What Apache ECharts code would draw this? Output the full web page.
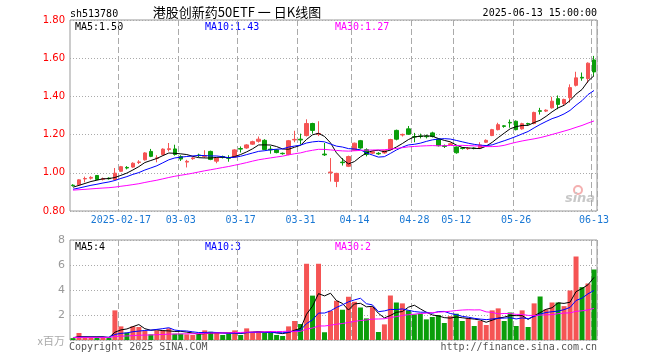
<!DOCTYPE html>
<html>
<head>
<meta charset="utf-8">
<script src="https://cdn.jsdelivr.net/npm/echarts@6/dist/echarts.min.js"></script>
<style>html,body{margin:0;padding:0;background:#fff}#c{width:660px;height:360px}</style>
</head>
<body>
<div id="c"></div>
<script>
// ---- data ----
const dates = ['02-05','02-06','02-07','02-10','02-11','02-12','02-13','02-14','02-17','02-18','02-19','02-20','02-21','02-24','02-25','02-26','02-27','02-28',
'03-03','03-04','03-05','03-06','03-07','03-10','03-11','03-12','03-13','03-14','03-17','03-18','03-19','03-20','03-21','03-24','03-25','03-26','03-27','03-28','03-31',
'04-01','04-02','04-03','04-07','04-08','04-09','04-10','04-11','04-14','04-15','04-16','04-17','04-18','04-21','04-22','04-23','04-24','04-25','04-28','04-29','04-30',
'05-06','05-07','05-08','05-09','05-12','05-13','05-14','05-15','05-16','05-19','05-20','05-21','05-22','05-23','05-26','05-27','05-28','05-29','05-30',
'06-03','06-04','06-05','06-06','06-09','06-10','06-11','06-12','06-13'];
const tickLabels = {'02-17':'2025-02-17','03-03':'03-03','03-17':'03-17','03-31':'03-31','04-14':'04-14','04-28':'04-28','05-12':'05-12','05-26':'05-26','06-13':'06-13'};
const opens  = [0.935,0.937,0.968,0.972,0.986,0.966,0.972,0.965,1.008,1.028,1.030,1.054,1.068,1.112,1.076,1.095,1.122,1.125,1.085,1.056,1.074,1.093,1.086,1.112,1.061,1.085,1.079,1.082,1.127,1.130,1.150,1.165,1.170,1.124,1.120,1.102,1.096,1.172,1.176,1.195,1.258,1.202,1.098,1.000,0.955,1.056,1.034,1.118,1.168,1.121,1.103,1.102,1.104,1.121,1.222,1.198,1.230,1.190,1.193,1.192,1.209,1.177,1.142,1.148,1.135,1.130,1.126,1.130,1.130,1.160,1.195,1.226,1.246,1.264,1.270,1.230,1.258,1.258,1.325,1.323,1.340,1.388,1.363,1.393,1.458,1.500,1.493,1.591];
const closes = [0.933,0.963,0.970,0.976,0.965,0.969,0.969,0.998,1.032,1.025,1.050,1.057,1.104,1.086,1.078,1.124,1.126,1.096,1.072,1.060,1.078,1.090,1.089,1.070,1.077,1.082,1.076,1.120,1.124,1.146,1.163,1.176,1.122,1.120,1.106,1.100,1.168,1.175,1.172,1.258,1.222,1.206,1.094,1.004,0.997,1.053,1.085,1.155,1.130,1.096,1.110,1.099,1.116,1.174,1.176,1.201,1.202,1.187,1.190,1.189,1.190,1.142,1.138,1.152,1.105,1.127,1.129,1.127,1.146,1.170,1.226,1.252,1.243,1.261,1.226,1.257,1.255,1.316,1.322,1.328,1.375,1.358,1.384,1.446,1.497,1.496,1.574,1.528];
const lows   = [0.928,0.935,0.950,0.965,0.962,0.960,0.965,0.962,1.005,1.018,1.026,1.046,1.064,1.082,1.055,1.090,1.112,1.090,1.062,1.028,1.068,1.082,1.078,1.066,1.050,1.075,1.058,1.078,1.106,1.126,1.146,1.158,1.118,1.100,1.102,1.095,1.092,1.160,1.148,1.190,1.205,1.192,1.088,0.954,0.925,1.038,1.030,1.115,1.126,1.086,1.098,1.094,1.100,1.118,1.170,1.190,1.198,1.160,1.180,1.180,1.185,1.138,1.130,1.145,1.100,1.122,1.120,1.123,1.126,1.156,1.192,1.222,1.236,1.236,1.222,1.226,1.248,1.254,1.305,1.318,1.336,1.333,1.355,1.367,1.452,1.482,1.470,1.507];
const highs  = [0.940,0.966,0.980,0.982,0.988,0.975,0.976,1.025,1.036,1.035,1.055,1.066,1.108,1.125,1.092,1.128,1.156,1.147,1.092,1.068,1.085,1.100,1.118,1.116,1.080,1.090,1.092,1.124,1.138,1.150,1.168,1.190,1.176,1.140,1.124,1.106,1.172,1.220,1.205,1.280,1.262,1.270,1.156,1.077,1.000,1.077,1.090,1.158,1.172,1.128,1.114,1.108,1.120,1.178,1.226,1.205,1.245,1.209,1.205,1.200,1.215,1.180,1.148,1.158,1.138,1.135,1.134,1.133,1.160,1.175,1.230,1.262,1.250,1.279,1.274,1.262,1.262,1.320,1.340,1.332,1.398,1.405,1.388,1.463,1.529,1.525,1.578,1.612];
const volumes = [0.15,0.56,0.19,0.18,0.20,0.17,0.20,2.37,1.09,0.59,1.09,1.04,0.72,0.45,0.77,0.77,0.93,0.50,0.50,0.45,0.40,0.45,0.77,0.66,0.56,0.40,0.50,0.77,0.40,0.93,0.59,0.66,0.59,0.59,0.40,0.32,1.09,1.52,1.28,6.10,3.55,6.10,0.62,2.34,3.14,2.42,3.46,3.06,2.60,1.73,2.63,0.64,1.25,3.56,3.00,2.93,2.37,2.05,2.10,1.65,1.84,2.00,1.36,1.91,2.10,1.52,1.73,1.12,1.52,1.20,2.37,2.53,1.52,2.20,1.12,2.37,1.04,2.93,3.48,2.45,3.00,3.00,2.71,3.96,6.68,4.23,4.52,5.64];
// closes / volumes before the visible window, estimated from where the MA lines start
const priorCloses = [0.905,0.910,0.902,0.898,0.906,0.912,0.908,0.900,0.904,0.911,0.915,0.909,0.903,0.907,0.913,0.910,0.905,0.908,0.912,0.906,0.900,0.898,0.905,0.910,0.903,0.915,0.920,0.925,0.930];
const priorVolumes = [0.22,0.18,0.25,0.20,0.16,0.21,0.19,0.24,0.17,0.20,0.23,0.18,0.20,0.15,0.22,0.19,0.21,0.17,0.20,0.24,0.18,0.20,0.16,0.22,0.19,0.20,0.18,0.21,0.20];
const priceMaLabels = ['MA5:1.50','MA10:1.43','MA30:1.27'];
const volMaLabels = ['MA5:4','MA10:3','MA30:2'];
const headerCode = 'sh513780';
const headerTitle = '港股创新药50ETF 一 日K线图';
const headerTime = '2025-06-13 15:00:00';

// ---- derived ----
const UP = '#f55454', DOWN = '#0a9e0a';
function ma(prior, vals, n) {
  const all = prior.concat(vals), off = prior.length, out = [];
  for (let i = 0; i < vals.length; i++) {
    let s = 0, c = 0;
    for (let k = i + off - n + 1; k <= i + off; k++) { if (k >= 0) { s += all[k]; c++; } }
    out.push(+(s / c).toFixed(4));
  }
  return out;
}
const kData = dates.map((d, i) => [opens[i], closes[i], lows[i], highs[i]]);
const volData = volumes.map((v, i) => ({ value: v, itemStyle: { color: closes[i] >= opens[i] ? UP : DOWN } }));
const labelIdx = new Set(dates.map((d, i) => tickLabels[d] ? i : -1).filter(i => i >= 0));
const MONO = 'DejaVu Sans Mono';

const chart = echarts.init(document.getElementById('c'), null, { renderer: 'canvas' });
const splitV = { show: true, interval: (i) => labelIdx.has(i), lineStyle: { color: '#aaa', type: [6, 3], width: 1 } };
const dotH = { show: true, lineStyle: { color: '#aaa', type: [1, 2], width: 1 } };
function lineS(name, data, color, xi) {
  return { name, type: 'line', data, xAxisIndex: xi, yAxisIndex: xi, symbol: 'none', smooth: false,
    lineStyle: { color, width: 1 }, z: 5, silent: true };
}
const txt = (x, y, text, color, align, font) => ({ type: 'text', x, y, style: { text, fill: color, align: align || 'left', verticalAlign: 'middle', font: font || ('10px ' + MONO) } });

chart.setOption({
  animation: false,
  backgroundColor: '#fff',
  grid: [
    { left: 70, top: 20, width: 527, height: 191, show: true, borderColor: '#999', borderWidth: 1 },
    { left: 70, top: 240, width: 527, height: 100, show: true, borderColor: '#999', borderWidth: 1 }
  ],
  xAxis: [
    { type: 'category', gridIndex: 0, data: dates, boundaryGap: true,
      axisLine: { show: false }, axisTick: { show: false },
      axisLabel: { interval: (i) => labelIdx.has(i), formatter: (v) => tickLabels[v] || '', color: '#1a78d4', fontFamily: MONO, fontSize: 10, margin: 4 },
      splitLine: splitV },
    { type: 'category', gridIndex: 1, data: dates, boundaryGap: true,
      axisLine: { show: false }, axisTick: { show: false }, axisLabel: { show: false },
      splitLine: splitV }
  ],
  yAxis: [
    { type: 'value', gridIndex: 0, min: 0.8, max: 1.8, interval: 0.2,
      axisLine: { show: false }, axisTick: { show: false },
      axisLabel: { color: '#f00', fontFamily: 'DejaVu Sans', fontSize: 10, margin: 5, formatter: (v) => v.toFixed(2) },
      splitLine: dotH },
    { type: 'value', gridIndex: 1, min: 0, max: 8, interval: 2,
      axisLine: { show: false }, axisTick: { show: false },
      axisLabel: { color: '#999', fontFamily: 'DejaVu Sans', fontSize: 11, margin: 5, formatter: (v) => v === 0 ? '' : String(v) },
      splitLine: dotH }
  ],
  series: [
    { type: 'candlestick', xAxisIndex: 0, yAxisIndex: 0, data: kData, barWidth: 4,
      itemStyle: { color: UP, color0: DOWN, borderColor: UP, borderColor0: DOWN, borderWidth: 1 }, z: 3 },
    lineS('MA5', ma(priorCloses, closes, 5), '#000', 0),
    lineS('MA10', ma(priorCloses, closes, 10), '#0000ff', 0),
    lineS('MA30', ma(priorCloses, closes, 30), '#ff00ff', 0),
    { type: 'bar', xAxisIndex: 1, yAxisIndex: 1, data: volData, barWidth: 5, z: 3 },
    lineS('VMA5', ma(priorVolumes, volumes, 5), '#000', 1),
    lineS('VMA10', ma(priorVolumes, volumes, 10), '#0000ff', 1),
    lineS('VMA30', ma(priorVolumes, volumes, 30), '#ff00ff', 1)
  ],
  graphic: [
    txt(70, 14, headerCode, '#000'),
    txt(237, 12, headerTitle, '#000', 'center', '13px "Noto Sans CJK SC"'),
    txt(597, 13, headerTime, '#000', 'right'),
    txt(75, 27, priceMaLabels[0], '#000'),
    txt(205, 27, priceMaLabels[1], '#0000ff'),
    txt(335, 27, priceMaLabels[2], '#ff00ff'),
    txt(75, 247, volMaLabels[0], '#000'),
    txt(205, 247, volMaLabels[1], '#0000ff'),
    txt(335, 247, volMaLabels[2], '#ff00ff'),
    txt(65, 341, 'x百万', '#aaa', 'right', '11px "Noto Sans CJK SC"'),
    txt(69, 347, 'Copyright 2025 SINA.COM', '#555'),
    txt(597, 347, 'http://finance.sina.com.cn', '#555', 'right'),
    { type: 'circle', shape: { cx: 578, cy: 190, r: 4 }, style: { fill: 'none', stroke: '#f4b0b0', lineWidth: 2 }, silent: true },
    txt(580, 199, 'sina', '#c8c8c8', 'center', 'italic bold 13px "DejaVu Sans"')
  ]
});
</script>
</body>
</html>
